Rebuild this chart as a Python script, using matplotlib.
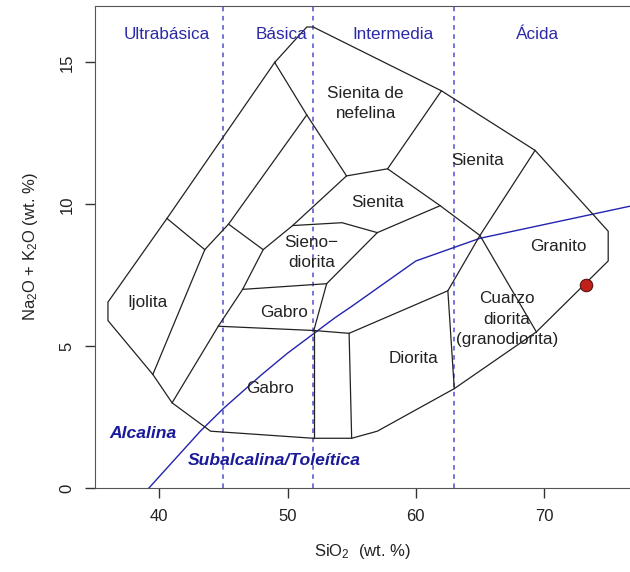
import matplotlib
matplotlib.use("Agg")
import matplotlib.pyplot as plt

plt.rcParams['font.family'] = ['Liberation Sans', 'DejaVu Sans']
plt.rcParams['mathtext.fontset'] = 'custom'
plt.rcParams['mathtext.rm'] = 'Liberation Sans'
plt.rcParams['mathtext.it'] = 'Liberation Sans:italic'

# field boundaries (SiO2, Na2O+K2O)
outline = [(49.0, 15.0), (40.6, 9.5), (36.0, 6.55), (36.0, 5.9), (39.5, 4.0),
           (41.0, 3.0), (44.0, 2.0), (52.0, 1.75), (55.0, 1.75), (57.0, 2.0),
           (63.0, 3.5), (69.4, 5.5), (75.0, 8.0), (75.0, 9.05), (69.3, 11.9),
           (62.0, 14.0), (52.0, 16.25), (51.5, 16.25), (49.0, 15.0)]
boundaries = [
    [(40.6, 9.5), (43.55, 8.4), (39.5, 4.0)],                          # ijolita
    [(51.5, 13.15), (45.4, 9.3), (43.55, 8.4)],
    [(45.4, 9.3), (48.1, 8.4)],
    [(49.0, 15.0), (51.5, 13.15), (54.6, 11.0), (50.4, 9.25), (48.1, 8.4),
     (46.5, 7.0), (44.6, 5.7), (41.0, 3.0)],
    [(54.6, 11.0), (57.8, 11.25), (62.0, 14.0)],                       # sienita de nefelina
    [(57.8, 11.25), (61.9, 9.95), (65.0, 8.9), (69.3, 11.9)],
    [(61.9, 9.95), (57.0, 9.0), (54.25, 9.35), (50.4, 9.25)],
    [(57.0, 9.0), (53.05, 7.2), (52.05, 5.55)],
    [(46.5, 7.0), (53.05, 7.2)],
    [(44.6, 5.7), (52.05, 5.55), (54.8, 5.45), (62.5, 6.95), (65.0, 8.9),
     (69.4, 5.5)],
    [(52.05, 5.55), (52.05, 1.75)],
    [(54.8, 5.45), (55.0, 1.75)],
    [(62.5, 6.95), (63.0, 3.5)],
]

# alkaline / subalkaline divide
div_x = [39.2, 40, 43.2, 45, 48, 50, 53.7, 55, 60, 65, 77.4]
div_y = [0, 0.4, 2, 2.8, 4, 4.75, 6, 6.4, 8, 8.8, 10]

silica_limits = [45, 52, 63]
group_names = ['Ultrabásica', 'Básica', 'Intermedia', 'Ácida']
group_x = [40.6, 49.5, 58.2, 69.45]

field_names = ['Sienita de\nnefelina', 'Sienita', 'Sienita', 'Sieno\u2212\ndiorita',
               'Ijolita', 'Gabro', 'Granito', 'Cuarzo\ndiorita\n(granodiorita)',
               'Diorita', 'Gabro']
field_x = [56.1, 64.8, 57.05, 51.85, 39.1, 49.7, 71.15, 67.1, 59.8, 48.6]
field_y = [13.55, 11.55, 10.05, 8.3, 6.55, 6.2, 8.5, 5.95, 4.55, 3.5]

sample_x = [73.3]
sample_y = [7.15]

fig = plt.figure(figsize=(6.3, 5.72), dpi=100)
ax = fig.add_axes([0.151, 0.147, 0.849, 0.843])

for lim in silica_limits:
    ax.axvline(lim, color='#5050d0', lw=1.1, ls=(0, (3, 3)), zorder=1)

ax.plot(div_x, div_y, color='#2323b0', lw=1.0, zorder=2)

ox, oy = zip(*outline)
ax.plot(ox, oy, color='#222222', lw=0.9, zorder=3)
for seg in boundaries:
    sx, sy = zip(*seg)
    ax.plot(sx, sy, color='#222222', lw=0.9, zorder=3)

for name, gx in zip(group_names, group_x):
    ax.text(gx, 15.97, name, color='#2a2aa8', fontsize=12.3,
            ha='center', va='center')

for name, fx, fy in zip(field_names, field_x, field_y):
    ax.text(fx, fy, name, color='#222222', fontsize=12.3, ha='center',
            va='center', linespacing=1.45, zorder=4)

ax.text(38.7, 1.93, 'Alcalina', color='#1a1a9a', fontsize=12.6,
        fontweight='bold', style='italic', ha='center', va='center')
ax.text(49.0, 0.95, 'Subalcalina/Toleítica', color='#1a1a9a', fontsize=12.6,
        fontweight='bold', style='italic', ha='center', va='center')

ax.scatter(sample_x, sample_y, s=80, color='#c0221a', edgecolor='#5a1010',
           linewidth=0.8, zorder=5)

ax.set_xlim(35.0, 76.7)
ax.set_ylim(0, 17)
ax.set_xticks([40, 50, 60, 70])
ax.set_yticks([0, 5, 10, 15])
ax.tick_params(direction='out', length=7, width=1, color='#333333',
               labelsize=12, labelcolor='#222222', pad=8)
plt.setp(ax.get_yticklabels(), rotation=90, va='center')
for side in ['left', 'bottom', 'top']:
    ax.spines[side].set_color('#555555')
ax.spines['right'].set_visible(False)

ax.set_xlabel('SiO$_2$  (wt. %)', fontsize=12, color='#222222', labelpad=13)
ax.set_ylabel('Na$_2$O + K$_2$O (wt. %)', fontsize=12, color='#222222',
              labelpad=14)

fig.savefig('out.png', dpi=100)
